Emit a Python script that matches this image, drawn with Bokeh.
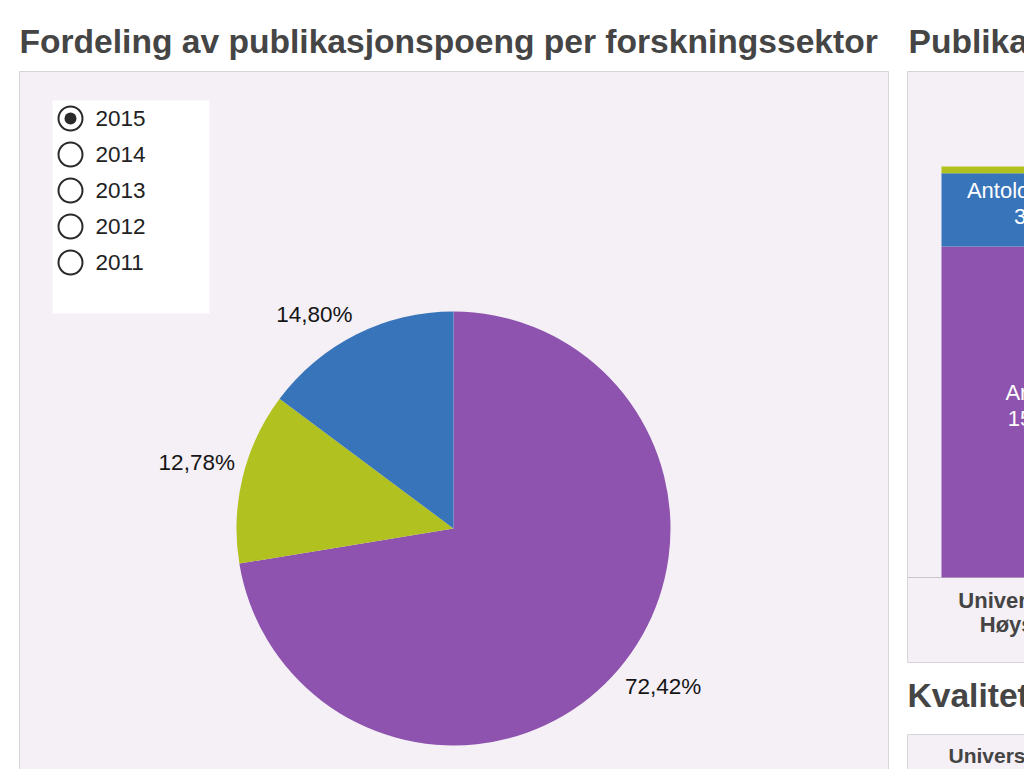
import math
from bokeh.plotting import figure
from bokeh.models import Range1d
from bokeh.core.properties import value
from bokeh.embed import file_html
from bokeh.resources import INLINE

# ---------------- data ----------------
sectors = ["Universitets- og høyskolesektoren", "Helseforetak", "Instituttsektoren"]
sector_shares = [72.42, 12.78, 14.80]
sector_colors = ["#8e53ae", "#b1c11f", "#3874ba"]

years = ["2015", "2014", "2013", "2012", "2011"]
selected_year = "2015"

pub_forms = ["Artikkel", "Antologiartikkel", "Monografi"]
pub_points = [1560.4, 345.2, 31.8]
pub_colors = ["#8e53ae", "#3874ba", "#b1c11f"]
bar_category = ["Universitets- og", "Høyskolene"]

left_title = "Fordeling av publikasjonspoeng per forskningssektor"
right_title = "Publikasjonspoeng per publikasjonsform"
lower_title = "Kvalitetsnivå per sektor"
lower_row = "Universitets- og høyskolesektoren"

# ---------------- layout ----------------
W, H = 1024, 769
FONT = value("Liberation Sans")
PANEL = "#f4f0f6"
BORDER = "#d8d5da"
TITLE_C = "#454545"


def Y(py):
    return H - py


def fmt(v, dec):
    return f"{v:.{dec}f}".replace(".", ",")


p = figure(width=W, height=H, x_range=Range1d(0, W), y_range=Range1d(0, H),
           x_axis_type=None, y_axis_type=None, toolbar_location=None,
           output_backend="svg", min_border=0, outline_line_color=None,
           background_fill_color="white", border_fill_color="white")

# panels
p.quad(left=19, right=888, top=Y(71), bottom=Y(780), fill_color=PANEL, line_color=BORDER)
p.quad(left=907, right=1040, top=Y(71), bottom=Y(662), fill_color=PANEL, line_color=BORDER)
p.quad(left=907, right=1040, top=Y(734), bottom=Y(790), fill_color=PANEL, line_color=BORDER)

# titles
for tx, ty, t in [(19, 41, left_title), (908, 41, right_title), (907, 695, lower_title)]:
    p.text(x=[tx], y=[Y(ty)], text=[t], text_font=FONT, text_font_style="bold",
           text_font_size="33.6px", text_color=TITLE_C, text_baseline="middle",
           text_align="left")

# ---------------- pie ----------------
cx, cy, r = 453, Y(528), 217
total = sum(sector_shares)
cum = 0.0
for share, col in zip(sector_shares, sector_colors):
    a0 = cum / total * 2 * math.pi
    cum += share
    a1 = cum / total * 2 * math.pi
    start = math.pi / 2 - a1
    end = math.pi / 2 - a0
    p.wedge(x=[cx], y=[cy], radius=r, start_angle=[start], end_angle=[end],
            direction="anticlock", fill_color=col, line_color=None)
    mid = (start + end) / 2
    lx = cx + 225 * math.cos(mid)
    ly = cy + 225 * math.sin(mid)
    p.text(x=[lx], y=[ly], text=[fmt(share, 2) + "%"], text_font=FONT,
           text_font_size="22.5px", text_color="#151515",
           text_align="right" if math.cos(mid) < 0 else "left",
           text_baseline="bottom" if math.sin(mid) > 0 else "top")

# ---------------- radio list ----------------
p.quad(left=52, right=209, top=Y(100), bottom=Y(313), fill_color="white", line_color=None)
for i, yr in enumerate(years):
    yy = Y(118 + 36 * i)
    p.circle(x=[70], y=[yy], radius=12, fill_color="white", line_color="#2a2a2a", line_width=2)
    if yr == selected_year:
        p.circle(x=[70], y=[yy], radius=6, fill_color="#2a2a2a", line_color=None)
    p.text(x=[95], y=[yy], text=[yr], text_font=FONT, text_font_size="22.5px",
           text_color="#222222", text_baseline="middle", text_align="left")

# ---------------- stacked bar (right, clipped) ----------------
base_px, top_px = 577, 166
bar_total = sum(pub_points)
scale = (base_px - top_px) / bar_total
ystart = -(H - base_px) / scale
p.extra_y_ranges = {"bar": Range1d(start=ystart, end=ystart + H / scale)}
bar_cx, bar_w = 1041, 200

p.segment(x0=[907], y0=[Y(base_px)], x1=[1040], y1=[Y(base_px)], line_color="#c9c6cb", line_width=1)

bottom = 0.0
for form, v, col in zip(pub_forms, pub_points, pub_colors):
    p.vbar(x=[bar_cx], width=bar_w, bottom=[bottom], top=[bottom + v], fill_color=col,
           line_color=None, y_range_name="bar")
    if v / bar_total > 0.1:
        midv = bottom + v / 2
        for txt, off in [(form, -19), (fmt(v, 1), 7)]:
            p.text(x=[bar_cx], y=[midv], text=[txt], y_offset=off, text_font=FONT,
                   text_font_size="22px", text_color="white", text_align="center",
                   text_baseline="middle", y_range_name="bar")
    bottom += v

for i, line in enumerate(bar_category):
    p.text(x=[bar_cx], y=[Y(600 + 24 * i)], text=[line], text_font=FONT,
           text_font_style="bold", text_font_size="22px", text_color="#444444",
           text_align="center", text_baseline="middle")

p.text(x=[948], y=[Y(755)], text=[lower_row], text_font=FONT, text_font_style="bold",
       text_font_size="21px", text_color="#444444", text_align="left",
       text_baseline="middle")

open("out.html", "w").write(file_html(p, INLINE))
